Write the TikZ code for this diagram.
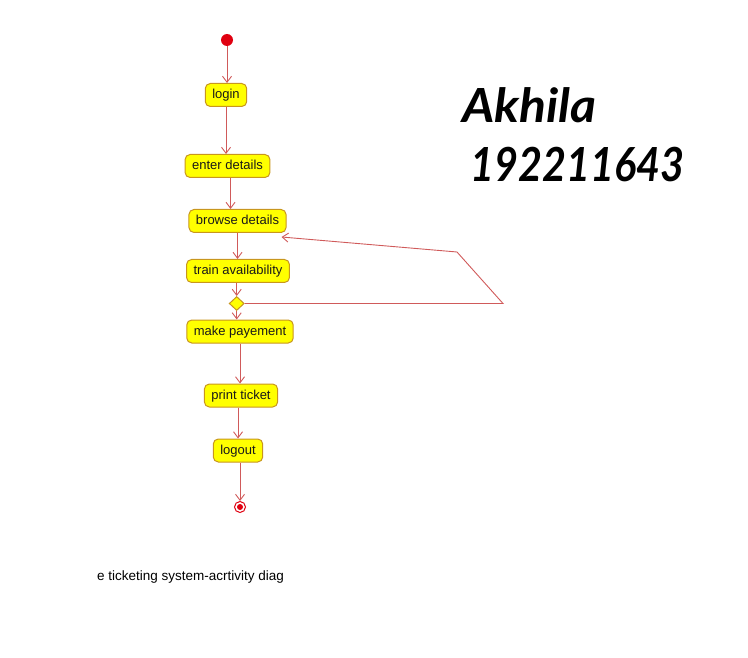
\documentclass[tikz,border=0pt]{standalone}
\usepackage{fontspec}
\setmainfont{Liberation Sans}
\newfontfamily\namefont{Lato}
\usetikzlibrary{arrows.meta}
\usetikzlibrary{calc}
\usetikzlibrary{shapes.geometric}
\definecolor{actfill}{HTML}{FFFF00}
\definecolor{actline}{HTML}{C8961E}
\definecolor{flowline}{HTML}{D05A5A}
\definecolor{nodered}{HTML}{E00010}
\tikzstyle{every node}=[font=\fontsize{13}{15}\selectfont]
\tikzstyle{activity}=[draw=actline,fill=actfill,rounded corners=5pt,line width=1pt,minimum height=23pt,inner xsep=7pt,text height=9.5pt,text depth=1.5pt,text=black!90]
\tikzstyle{flow}=[draw=flowline,line width=0.9pt,-{Straight Barb[length=6pt,width=9pt]}]

\begin{document}
\begin{tikzpicture}[x=1pt,y=-1pt]
    \useasboundingbox (0,0) rectangle (748,658);

    % Start and end points
    \node[circle,fill=nodered,minimum size=12pt,inner sep=0pt,name=start] at (227,40) {};
    \node[circle,draw=nodered,fill=white,line width=1pt,minimum size=11pt,inner sep=0pt,name=final] at (240,507) {};
    \fill[nodered] (final) circle (3pt);

    % Activities
    \node[activity,name=login] at (226,95) {login};
    \node[activity,name=enter] at (227.5,166) {enter details};
    \node[activity,name=browse] at (237.5,221) {browse details};
    \node[activity,name=train] at (238,271) {train availability};
    \node[diamond,draw=actline,fill=actfill,line width=1pt,minimum width=15pt,minimum height=14pt,inner sep=0pt,name=dec] at (236.7,303.5) {};
    \node[activity,name=pay] at (240,331.5) {make payement};
    \node[activity,name=print] at (241,395.5) {print ticket};
    \node[activity,name=logout] at (238,450.5) {logout};

    % Loop back corners
    \coordinate (loopR) at (503,303.5);
    \coordinate (loopT) at (457,252);

    % Flows
    \draw[flow] (start) -- (start |- login.north);
    \draw[flow] (login.south) -- (login.south |- enter.north);
    \draw[flow] ([xshift=3pt]enter.south) -- ([xshift=3pt]enter.south |- browse.north);
    \draw[flow] (browse.south) -- (browse.south |- train.north);
    \draw[flow] (dec.north |- train.south) -- (dec.north);
    \draw[flow] (dec.south) -- (dec.south |- pay.north);
    \draw[flow] (pay.south) -- (pay.south |- print.north);
    \draw[flow] (logout.north |- print.south) -- (logout.north);
    \draw[flow] (final.north |- logout.south) -- (final.north);
    \draw[flow] (dec.east) -- (loopR) -- (loopT) -- ($(browse.south east)+(-5,4)$);

    % Name and number
    \node[anchor=base west,inner sep=0pt,font=\namefont\fontsize{47}{50}\selectfont\bfseries\itshape,name=author] at (462,123) {\scalebox{1.06}[1]{Akhila}};
    \node[anchor=base west,inner sep=0pt,font=\namefont\fontsize{47}{50}\selectfont\bfseries\itshape,name=regno] at (470,182) {\scalebox{0.88}[1]{192211643}};

    % Caption
    \node[anchor=base west,inner sep=0pt,font=\fontsize{13.5}{15}\selectfont,name=caption] at (97,580) {e ticketing system-acrtivity diag};
\end{tikzpicture}
\end{document}
